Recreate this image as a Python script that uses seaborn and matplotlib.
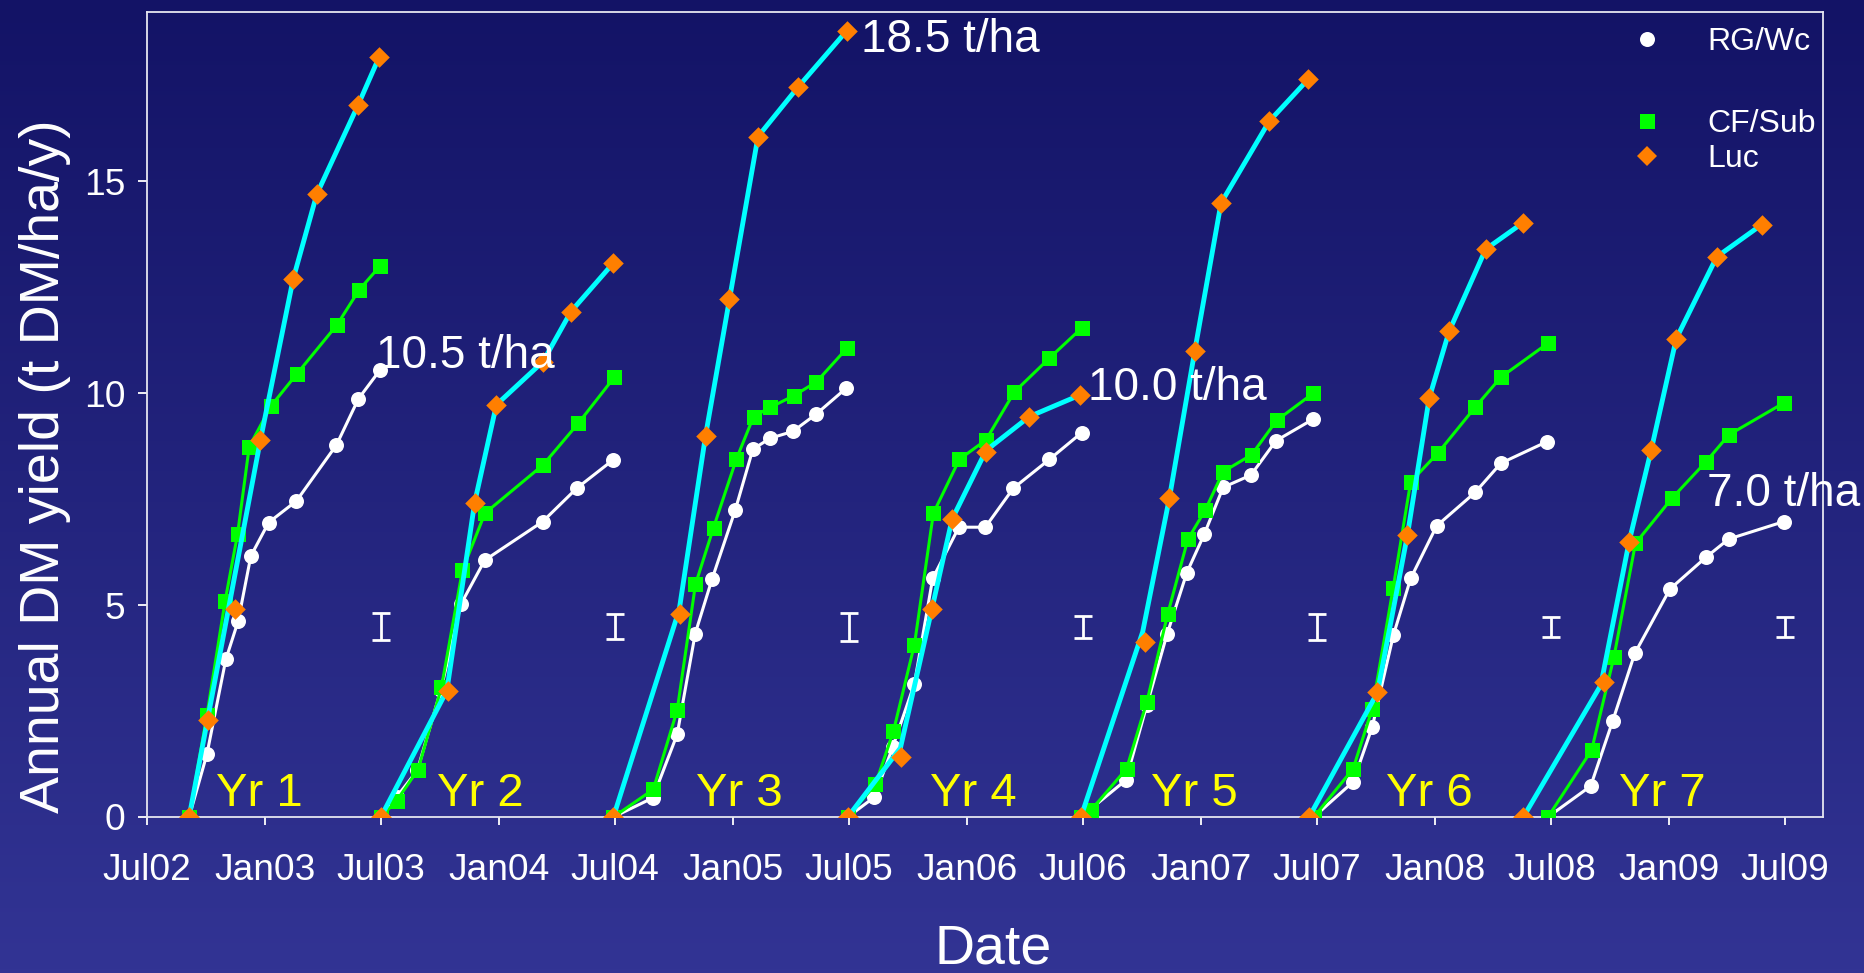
import numpy as np
import pandas as pd
import matplotlib
matplotlib.use("Agg")
import matplotlib.pyplot as plt
import matplotlib.dates as mdates
from matplotlib.lines import Line2D
from matplotlib.colors import LinearSegmentedColormap
import seaborn as sns

# ---------------- data (x in decimal years, y in t DM/ha) ----------------
season_names = ["Yr 1", "Yr 2", "Yr 3", "Yr 4", "Yr 5", "Yr 6", "Yr 7"]

rg_x = [
    [2002.676, 2002.752, 2002.833, 2002.886, 2002.940, 2003.016, 2003.135, 2003.306, 2003.400, 2003.491],
    [2003.496, 2003.563, 2003.652, 2003.752, 2003.838, 2003.940, 2004.187, 2004.333, 2004.488],
    [2004.489, 2004.657, 2004.761, 2004.838, 2004.910, 2005.009, 2005.084, 2005.158, 2005.255, 2005.355, 2005.483],
    [2005.490, 2005.604, 2005.682, 2005.775, 2005.853, 2005.965, 2006.078, 2006.198, 2006.352, 2006.490],
    [2006.487, 2006.679, 2006.769, 2006.855, 2006.940, 2007.014, 2007.095, 2007.214, 2007.321, 2007.480],
    [2007.483, 2007.651, 2007.733, 2007.823, 2007.897, 2008.008, 2008.172, 2008.282, 2008.479],
    [2008.483, 2008.665, 2008.759, 2008.853, 2009.003, 2009.157, 2009.254, 2009.489],
]
rg_y = [
    [0, 1.48, 3.72, 4.63, 6.16, 6.95, 7.46, 8.78, 9.87, 10.54],
    [0, 0.47, 1.10, 2.99, 5.02, 6.06, 6.97, 7.76, 8.43],
    [0, 0.45, 1.95, 4.33, 5.62, 7.25, 8.68, 8.94, 9.10, 9.51, 10.12],
    [0, 0.47, 1.65, 3.15, 5.63, 6.84, 6.84, 7.76, 8.44, 9.07],
    [0, 0.87, 2.64, 4.31, 5.77, 6.67, 7.78, 8.07, 8.88, 9.39],
    [0, 0.83, 2.13, 4.29, 5.63, 6.87, 7.66, 8.35, 8.86],
    [0, 0.73, 2.27, 3.86, 5.38, 6.13, 6.56, 6.97],
]

cf_x = [
    [2002.676, 2002.752, 2002.830, 2002.883, 2002.933, 2003.026, 2003.137, 2003.309, 2003.403, 2003.493],
    [2003.496, 2003.563, 2003.655, 2003.755, 2003.845, 2003.941, 2004.189, 2004.339, 2004.493],
    [2004.489, 2004.659, 2004.761, 2004.839, 2004.916, 2005.013, 2005.087, 2005.159, 2005.258, 2005.356, 2005.487],
    [2005.490, 2005.608, 2005.685, 2005.775, 2005.856, 2005.967, 2006.081, 2006.202, 2006.352, 2006.490],
    [2006.487, 2006.530, 2006.682, 2006.769, 2006.858, 2006.944, 2007.019, 2007.095, 2007.217, 2007.324, 2007.480],
    [2007.483, 2007.651, 2007.733, 2007.822, 2007.897, 2008.015, 2008.172, 2008.282, 2008.482],
    [2008.483, 2008.669, 2008.764, 2008.856, 2009.011, 2009.158, 2009.255, 2009.489],
]
cf_y = [
    [0, 2.40, 5.10, 6.67, 8.74, 9.70, 10.46, 11.62, 12.44, 13.01],
    [0, 0.38, 1.12, 3.06, 5.83, 7.17, 8.31, 9.29, 10.38],
    [0, 0.65, 2.52, 5.49, 6.83, 8.44, 9.45, 9.67, 9.94, 10.27, 11.07],
    [0, 0.77, 2.02, 4.07, 7.17, 8.44, 8.90, 10.03, 10.83, 11.54],
    [0, 0.16, 1.14, 2.72, 4.79, 6.55, 7.25, 8.15, 8.55, 9.36, 10.00],
    [0, 1.14, 2.56, 5.40, 7.91, 8.60, 9.67, 10.38, 11.18],
    [0, 1.58, 3.77, 6.46, 7.52, 8.39, 9.02, 9.77],
]

luc_x = [
    [2002.676, 2002.757, 2002.872, 2002.981, 2003.121, 2003.222, 2003.399, 2003.489],
    [2003.496, 2003.785, 2003.897, 2003.990, 2004.189, 2004.308, 2004.488],
    [2004.489, 2004.773, 2004.882, 2004.984, 2005.106, 2005.276, 2005.486],
    [2005.490, 2005.718, 2005.850, 2005.936, 2006.081, 2006.266, 2006.483],
    [2006.487, 2006.761, 2006.865, 2006.974, 2007.086, 2007.292, 2007.460],
    [2007.463, 2007.755, 2007.883, 2007.976, 2008.061, 2008.217, 2008.377],
    [2008.378, 2008.723, 2008.829, 2008.923, 2009.030, 2009.203, 2009.395],
]
luc_y = [
    [0, 2.30, 4.90, 8.90, 12.70, 14.70, 16.81, 17.94],
    [0, 2.98, 7.42, 9.73, 10.75, 11.93, 13.07],
    [0, 4.78, 9.00, 12.22, 16.06, 17.22, 18.56],
    [0, 1.42, 4.92, 7.03, 8.61, 9.45, 9.96],
    [0, 4.12, 7.52, 11.01, 14.49, 16.42, 17.42],
    [0, 2.94, 6.65, 9.88, 11.46, 13.40, 14.03],
    [0, 3.19, 6.50, 8.66, 11.29, 13.22, 13.98],
]

# cyan trend line drawn through the lucerne harvests
trend_x = [
    [2002.676, 2002.981, 2003.121, 2003.222, 2003.399, 2003.489],
    [2003.496, 2003.778, 2003.897, 2003.990, 2004.189, 2004.308, 2004.488],
    [2004.489, 2004.770, 2004.882, 2004.984, 2005.106, 2005.276, 2005.486],
    [2005.490, 2005.715, 2005.850, 2005.936, 2006.081, 2006.266, 2006.483],
    [2006.487, 2006.751, 2006.865, 2006.974, 2007.086, 2007.292, 2007.460],
    [2007.463, 2007.755, 2007.883, 2007.976, 2008.061, 2008.217, 2008.377],
    [2008.378, 2008.708, 2008.829, 2008.923, 2009.030, 2009.203, 2009.395],
]
trend_y = [
    [0, 8.90, 12.70, 14.70, 16.81, 17.94],
    [0, 2.98, 7.42, 9.73, 10.75, 11.93, 13.07],
    [0, 4.90, 9.00, 12.22, 16.06, 17.22, 18.56],
    [0, 1.63, 4.92, 7.03, 8.65, 9.45, 9.96],
    [0, 4.37, 7.52, 11.01, 14.49, 16.42, 17.42],
    [0, 2.94, 6.65, 9.88, 11.46, 13.40, 14.03],
    [0, 3.11, 6.50, 8.66, 11.29, 13.22, 13.98],
]

# LSD bars at the end of each year
lsd_x = ["2003-07-01", "2004-07-01", "2005-07-01", "2006-07-01", "2007-07-01", "2008-07-01", "2009-07-01"]
lsd_center = [4.49, 4.49, 4.49, 4.49, 4.49, 4.49, 4.49]
lsd_half = [0.315, 0.30, 0.33, 0.256, 0.31, 0.236, 0.236]

# annotations: (text, decimal-year x, y)
total_labels = [("10.5 t/ha", 2003.474, 10.60), ("18.5 t/ha", 2005.547, 18.06),
                ("10.0 t/ha", 2006.517, 9.84), ("7.0 t/ha", 2009.161, 7.34)]
yr_label_x = [2002.79, 2003.735, 2004.842, 2005.843, 2006.786, 2007.791, 2008.787]
yr_label_y = 0.25


def dy(v):
    y = int(np.floor(v))
    start = pd.Timestamp(y, 1, 1)
    end = pd.Timestamp(y + 1, 1, 1)
    return start + (end - start) * (v - y)


def long_form(xs, ys):
    rows = []
    for name, xx, yy in zip(season_names, xs, ys):
        for a, b in zip(xx, yy):
            rows.append({"date": dy(a), "value": b, "season": name})
    return pd.DataFrame(rows)


df_rg = long_form(rg_x, rg_y)
df_cf = long_form(cf_x, cf_y)
df_luc = long_form(luc_x, luc_y)
df_trend = long_form(trend_x, trend_y)

# ---------------- styling ----------------
sns.set_style("white")
plt.rcParams["font.family"] = ["Liberation Sans", "DejaVu Sans"]
plt.rcParams["axes.unicode_minus"] = False

W, H = 1864, 973
fig = plt.figure(figsize=(W / 100, H / 100), dpi=100)

# gradient background
bg = fig.add_axes([0, 0, 1, 1], zorder=-5)
grad = np.linspace(0, 1, 256).reshape(-1, 1)
cmap = LinearSegmentedColormap.from_list("bg", ["#131366", "#323494"])
bg.imshow(grad, aspect="auto", cmap=cmap, extent=[0, 1, 0, 1], origin="upper")
bg.set_axis_off()

L, R, T, B = 147, 1823, 12, 817
ax = fig.add_axes([L / W, (H - B) / H, (R - L) / W, (B - T) / H])
ax.set_facecolor("none")

WHITE = "#FFFFFF"
GREEN = "#00FF00"
ORANGE = "#FF7F00"
CYAN = "#00FFFF"

sns.lineplot(data=df_rg, x="date", y="value", units="season", estimator=None, sort=False,
             color=WHITE, lw=2.2, marker="o", markersize=10.8, markeredgewidth=0,
             legend=False, ax=ax, zorder=3)
sns.lineplot(data=df_cf, x="date", y="value", units="season", estimator=None, sort=False,
             color=GREEN, lw=2.2, marker="s", markersize=10.8, markeredgewidth=0,
             legend=False, ax=ax, zorder=4)
sns.lineplot(data=df_trend, x="date", y="value", units="season", estimator=None, sort=False,
             color=CYAN, lw=3.5, legend=False, ax=ax, zorder=5)
sns.scatterplot(data=df_luc, x="date", y="value", color=ORANGE, marker="D", s=110,
                linewidth=0, legend=False, ax=ax, zorder=6)

ax.errorbar(pd.to_datetime(lsd_x), lsd_center, yerr=lsd_half, fmt="none",
            ecolor=WHITE, elinewidth=2.0, capsize=6.4, capthick=2.0, zorder=3)

for txt, xv, yv in total_labels:
    ax.text(mdates.date2num(dy(xv)), yv, txt, color=WHITE, fontsize=33,
            ha="left", va="baseline", zorder=7)
for name, xv in zip(season_names, yr_label_x):
    ax.text(mdates.date2num(dy(xv)), yr_label_y, name, color="#FFFF00", fontsize=34,
            ha="left", va="baseline", zorder=7)

# axes
ax.set_xlim(pd.Timestamp("2002-07-01"), pd.Timestamp("2009-08-29"))
ax.set_ylim(0, 19)
ax.set_yticks([0, 5, 10, 15])
ax.xaxis.set_major_locator(mdates.MonthLocator(bymonth=[1, 7]))
ax.xaxis.set_major_formatter(mdates.DateFormatter("%b%y"))
ax.xaxis.set_minor_locator(mdates.MonthLocator(bymonth=[3, 11]))
ax.tick_params(axis="x", which="major", direction="out", length=6, width=1.3,
               colors=WHITE, labelsize=26.7, pad=20)
ax.tick_params(axis="x", which="minor", direction="inout", length=4, width=1.0, colors="#C8C8DC")
ax.tick_params(axis="y", which="major", direction="out", length=6.5, width=1.3,
               colors=WHITE, labelsize=26.7, pad=9)
ax.tick_params(axis="x", bottom=True)
ax.tick_params(axis="y", left=True)
for sp in ax.spines.values():
    sp.set_visible(True)
    sp.set_color("#E6E6F0")
    sp.set_linewidth(1.3)

ax.set_xlabel("Date", fontsize=40, color=WHITE)
ax.xaxis.label.set(ha="center", va="baseline")
ax.xaxis.set_label_coords((993 - L) / (R - L), (B - 963) / (B - T))
ax.set_ylabel("Annual DM yield (t DM/ha/y)", fontsize=40, color=WHITE)
ax.yaxis.label.set(ha="center", va="center")
ax.yaxis.set_label_coords((45 - L) / (R - L), (B - 466) / (B - T))

# legend
h_rg = Line2D([], [], ls="none", marker="o", markersize=10.8, color=WHITE, markeredgewidth=0)
h_cf = Line2D([], [], ls="none", marker="s", markersize=10.8, color=GREEN, markeredgewidth=0)
h_luc = Line2D([], [], ls="none", marker="D", markersize=10.5, color=ORANGE, markeredgewidth=0)
leg_kw = dict(frameon=False, fontsize=23, labelcolor=WHITE, handlelength=1.0,
              handletextpad=1.4, borderpad=0, borderaxespad=0, loc="center left",
              bbox_transform=fig.transFigure)
leg1 = ax.legend(handles=[h_rg], labels=["RG/Wc"], bbox_to_anchor=(1631.0 / W, 1 - 42.5 / H), **leg_kw)
ax.add_artist(leg1)
ax.legend(handles=[h_cf, h_luc], labels=["CF/Sub", "Luc"], labelspacing=0.15,
          bbox_to_anchor=(1631.0 / W, 1 - 141.5 / H), **leg_kw)

fig.savefig("out.png", dpi=100)
